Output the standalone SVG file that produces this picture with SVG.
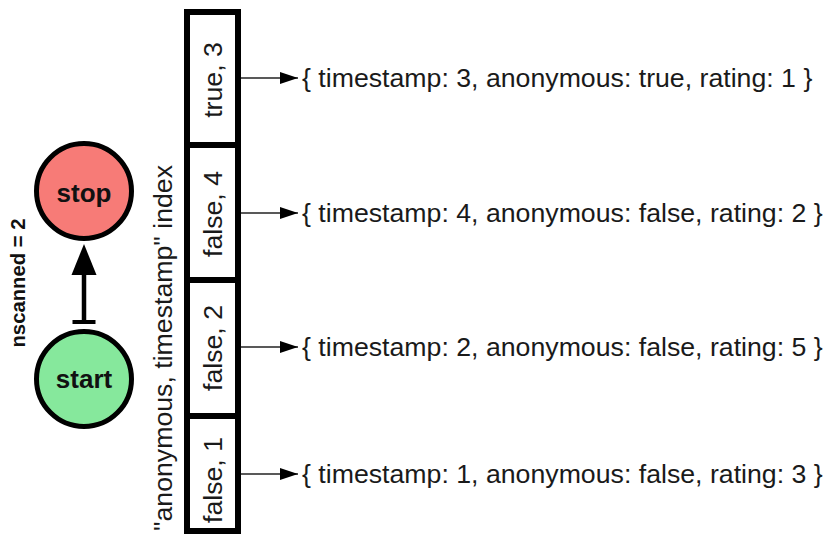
<svg xmlns="http://www.w3.org/2000/svg" width="827" height="535" viewBox="0 0 827 535">
<style>
.t{font-family:"Liberation Sans",Arial,Helvetica,sans-serif;font-size:26.7px;fill:#1a1a1a}
.b{font-family:"Liberation Sans",Arial,Helvetica,sans-serif;font-weight:bold;fill:#111}
.cell{fill:#fff;stroke:#000;stroke-width:6}
.node{stroke:#000;stroke-width:5}
.ptr{stroke:#222;stroke-width:1.6;fill:none}
</style>
<defs>
<marker id="ah" markerUnits="userSpaceOnUse" markerWidth="18" markerHeight="12" refX="18" refY="6" orient="auto">
<path d="M0,0 L18,6 L0,12 Z" fill="#000"/>
</marker>
</defs>
<rect width="827" height="535" fill="#fff"/>
<g id="nscanned-label">
<text class="b" font-size="20.3" transform="translate(25,283) rotate(-90)" text-anchor="middle">nscanned = 2</text>
</g>
<g id="stop">
<circle class="node" cx="84" cy="191" r="47.5" fill="#f77b77"/>
<text class="b" font-size="26" x="84" y="202" text-anchor="middle">stop</text>
</g>
<g id="start">
<circle class="node" cx="84" cy="379" r="47.5" fill="#86e89c"/>
<text class="b" font-size="26" x="84" y="388" text-anchor="middle">start</text>
</g>
<g id="index-label">
<text class="t" transform="translate(172,348) rotate(-90)" text-anchor="middle">"anonymous, timestamp" index</text>
</g>
<g id="index">
<g id="cell-true-3">
<rect class="cell" x="187" y="12" width="51" height="133"/>
<text class="t" transform="translate(222,80) rotate(-90)" text-anchor="middle">true, 3</text>
</g>
<g id="cell-false-4">
<rect class="cell" x="187" y="145" width="51" height="135"/>
<text class="t" transform="translate(222,214) rotate(-90)" text-anchor="middle">false, 4</text>
</g>
<g id="cell-false-2">
<rect class="cell" x="187" y="280" width="51" height="136"/>
<text class="t" transform="translate(222,348) rotate(-90)" text-anchor="middle">false, 2</text>
</g>
<g id="cell-false-1">
<rect class="cell" x="187" y="416" width="51" height="115"/>
<text class="t" transform="translate(222,480) rotate(-90)" text-anchor="middle">false, 1</text>
</g>
</g>
<g id="doc-1"><text class="t" x="302" y="87">{ timestamp: 3, anonymous: true, rating: 1 }</text></g>
<g id="doc-2"><text class="t" x="302" y="222">{ timestamp: 4, anonymous: false, rating: 2 }</text></g>
<g id="doc-3"><text class="t" x="302" y="356">{ timestamp: 2, anonymous: false, rating: 5 }</text></g>
<g id="doc-4"><text class="t" x="302" y="483">{ timestamp: 1, anonymous: false, rating: 3 }</text></g>
<g id="connectors">
<line x1="84" y1="322" x2="84" y2="274" stroke="#000" stroke-width="4.5"/>
<line x1="72.5" y1="322" x2="95.5" y2="322" stroke="#000" stroke-width="4"/>
<path d="M84,244 L96.5,275 L71.5,275 Z" fill="#000"/>
<line class="ptr" x1="241" y1="78" x2="298" y2="78" marker-end="url(#ah)"/>
<line class="ptr" x1="241" y1="213" x2="298" y2="213" marker-end="url(#ah)"/>
<line class="ptr" x1="241" y1="347" x2="298" y2="347" marker-end="url(#ah)"/>
<line class="ptr" x1="241" y1="474" x2="298" y2="474" marker-end="url(#ah)"/>
</g>
</svg>
